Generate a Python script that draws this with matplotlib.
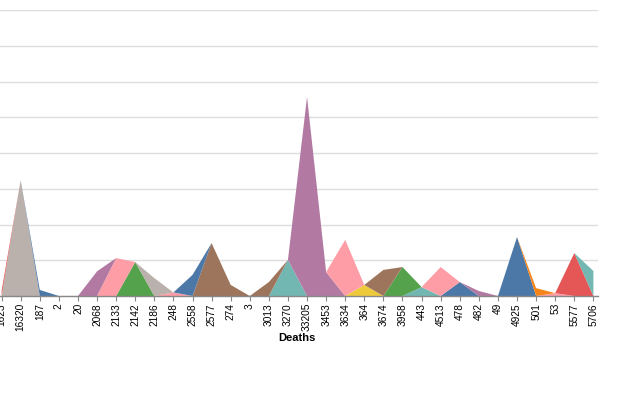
import matplotlib
matplotlib.use("Agg")
import matplotlib.pyplot as plt
import numpy as np

# Categories on the x axis (Deaths, nominal, sorted as text)
categories = ["1623", "16320", "187", "2", "20", "2068", "2133", "2142", "2186", "248",
              "2558", "2577", "274", "3", "3013", "3270", "33205", "3453", "3634", "364",
              "3674", "3958", "443", "4513", "478", "482", "49", "4925", "501", "53",
              "5577", "5706"]
# value of the series present at each category
values = [1.5, 32.4, 1.7, 0, 0, 6.9, 10.6, 9.5, 5.0, 1.0,
          5.9, 14.8, 3.1, 0, 3.9, 10.1, 55.7, 6.7, 15.7, 3.1,
          7.3, 8.1, 2.5, 8.1, 3.9, 1.4, 0, 16.5, 2.2, 0.8,
          12.0, 7.0]
# series (colour group) present at each category
series_of = ["red1", "gray1", "blue1", None, None, "purple1", "pink1", "green1", "gray2", "pink2",
             "blue2", "brown1", "brown1", None, "brown2", "teal1", "purple2", "purple2", "pink3", "yellow1",
             "brown3", "green2", "teal2", "pink4", "blue3", "purple3", None, "blue4", "orange1", "pink5",
             "red2", "teal3"]
# series in stack order, from the baseline upwards
stack_order = ["green1", "pink2", "brown1", "teal1", "yellow1", "teal2", "blue3", "blue4", "pink5",
               "gray1", "pink1", "gray2", "blue2", "brown2", "purple2", "pink3", "green2", "pink4",
               "purple3", "orange1", "red2",
               "red1", "blue1", "purple1", "brown3", "teal3"]

palette = {"blue": "#4c78a8", "orange": "#f58518", "red": "#e45756", "teal": "#72b7b2",
           "green": "#54a24b", "yellow": "#eeca3b", "purple": "#b279a2", "pink": "#ff9da6",
           "brown": "#9d755d", "gray": "#bab0ac"}

plt.rcParams['font.family'] = ['Liberation Sans', 'DejaVu Sans']

W, H = 640, 400
fig = plt.figure(figsize=(W / 100, H / 100), dpi=100)
step = 19.09
x_first = 1.6
left_px, right_px, top_px, bot_px = 0, 598, 10, 296
ax = fig.add_axes([left_px / W, 1 - bot_px / H, (right_px - left_px) / W, (bot_px - top_px) / H])

x = np.arange(len(categories))
rows, cols = [], []
for name in stack_order:
    r = np.array([v if s == name else 0.0 for v, s in zip(values, series_of)])
    rows.append(r)
    cols.append(palette[name.rstrip("0123456789")])
polys = ax.stackplot(x, *rows, colors=cols, linewidth=0)
for p in polys:
    p.set_edgecolor("none")

ax.set_xlim((left_px - x_first) / step, (right_px - x_first) / step)
ax.set_ylim(0, 80)
ax.set_yticks(np.arange(0, 81, 10))
ax.yaxis.grid(True, color="#dddddd", linewidth=1)
ax.set_axisbelow(True)
ax.tick_params(axis="y", left=False, labelleft=False)
for s in ["left", "top", "right"]:
    ax.spines[s].set_visible(False)
ax.spines["bottom"].set_color("#888888")
ax.spines["bottom"].set_linewidth(1)
ax.set_xticks(x)
ax.set_xticklabels(categories, rotation=90, fontsize=7.3, color="#000000")
ax.tick_params(axis="x", length=3.6, width=0.8, color="#888888", pad=1.5)

fig.text(297 / W, 1 - 338 / H, "Deaths", ha="center", va="center", fontsize=8, fontweight="bold")

fig.savefig("out.png", dpi=100)
